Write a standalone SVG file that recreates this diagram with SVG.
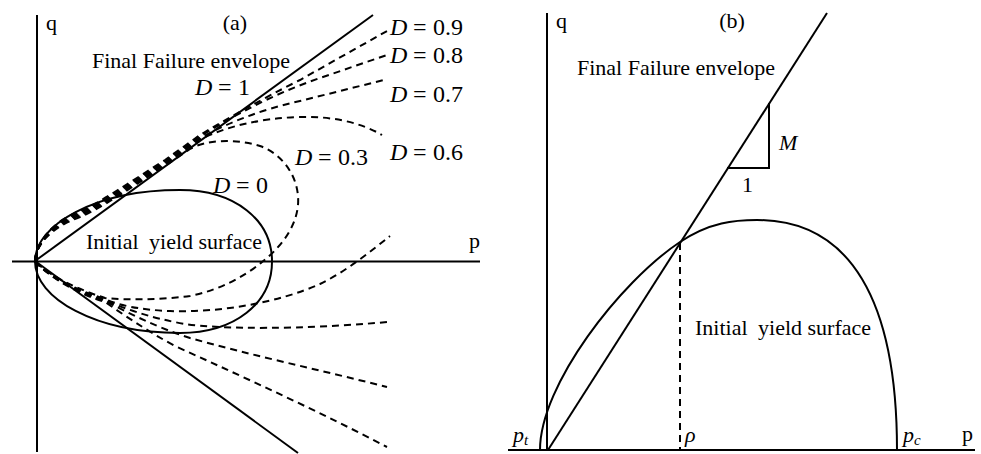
<svg xmlns="http://www.w3.org/2000/svg" width="981" height="454" viewBox="0 0 981 454">
<style>
.s{fill:none;stroke:#000;stroke-width:2}
.d{fill:none;stroke:#000;stroke-width:2;stroke-dasharray:7 5}
text{font-family:"Liberation Serif","Times New Roman",serif;font-size:22px;fill:#000}
.m{font-size:24px}
.i{font-style:italic}
</style>
<rect width="981" height="454" fill="#fff"/>
<g id="panel-a">
  <g id="a-axes">
    <line class="s" x1="37" y1="15" x2="37" y2="452"/>
    <line class="s" x1="12" y1="261.5" x2="480" y2="261.5"/>
    <text x="46" y="30">q</text>
    <text x="469" y="248">p</text>
    <text x="235" y="30" text-anchor="middle">(a)</text>
  </g>
  <g id="a-envelope">
    <line class="s" x1="35" y1="261" x2="373" y2="15"/>
    <line class="s" x1="35" y1="261" x2="298" y2="453"/>
    <text x="92" y="68">Final Failure envelope</text>
  </g>
  <g id="a-yield-D0">
    <path class="s" d="M35,261.5 C35,225 95,190 180,190 C235,190 272,220 272,261.5 C272,303 235,333 180,333 C95,333 35,298 35,261.5 Z"/>
    <text x="86" y="249">Initial<tspan dx="5"> yield surface</tspan></text>
  </g>
  <g id="a-D03">
    <path class="d" d="M35,261 C36,245 50,228 80,217 C100,209 130,188 165,166 L190,149 C205,140 235,138 260,146 C285,155 300,180 298,205 C296,228 280,248 262,262 C245,276 220,290 190,296 C160,300 125,300 105,298 C70,287 45,272 35,261"/>
  </g>
  <g id="a-D06">
    <path class="d" d="M35,261 C36,245 50,226.5 80,215.5 C100,207.5 130,186.5 165,164.5 L200,139.5 C225,127 260,118 300,117 C330,116 360,122 382,135"/>
    <path class="d" d="M35,261 C45,273 70,288 105,299 C118,305 140,310 170,311 C220,313 280,302 320,284 C345,272 370,252 390,236"/>
  </g>
  <g id="a-D07">
    <path class="d" d="M35,261 C36,245 50,225 80,214 C100,206 130,185 165,163 L200,138 C230,122 260,110 300,101 L384,80"/>
    <path class="d" d="M35,261 C45,273 70,289 105,300 C120,307 150,318 185,324 C220,329 300,330 387,322"/>
  </g>
  <g id="a-D08">
    <path class="d" d="M35,261 C36,245 50,223.5 80,212.5 C100,204.5 130,183.5 165,161.5 L200,136.5 C230,118 270,95 320,78 L387,55"/>
    <path class="d" d="M35,261 C45,273 70,290 105,301 C125,311 155,327 190,338 C250,355 320,370 387,387"/>
  </g>
  <g id="a-D09">
    <path class="d" d="M35,261 C36,245 50,222 80,211 C100,203 130,182 165,160 L200,135 C225,120 260,100 300,80 L387,31"/>
    <path class="d" d="M35,261 C45,273 70,291 105,302 C120,312 145,330 175,346 C250,380 320,412 387,447"/>
  </g>
  <g id="a-labels">
    <text class="m" y="35"><tspan class="i" x="390">D</tspan><tspan x="413">=</tspan><tspan x="433">0.9</tspan></text>
    <text class="m" y="63"><tspan class="i" x="390">D</tspan><tspan x="413">=</tspan><tspan x="433">0.8</tspan></text>
    <text class="m" y="102"><tspan class="i" x="390">D</tspan><tspan x="413">=</tspan><tspan x="433">0.7</tspan></text>
    <text class="m" y="160"><tspan class="i" x="390">D</tspan><tspan x="413">=</tspan><tspan x="433">0.6</tspan></text>
    <text class="m" y="165"><tspan class="i" x="295">D</tspan><tspan x="318">=</tspan><tspan x="338">0.3</tspan></text>
    <text class="m" y="95"><tspan class="i" x="195">D</tspan><tspan x="218">=</tspan><tspan x="238">1</tspan></text>
    <text class="m" y="193"><tspan class="i" x="213">D</tspan><tspan x="236">=</tspan><tspan x="256">0</tspan></text>
  </g>
</g>
<g id="panel-b">
  <g id="b-axes">
    <line class="s" x1="547" y1="13" x2="547" y2="451"/>
    <line class="s" x1="508" y1="450" x2="975" y2="450"/>
    <text x="556" y="28">q</text>
    <text x="962" y="441">p</text>
    <text x="732" y="28" text-anchor="middle">(b)</text>
  </g>
  <g id="b-envelope">
    <line class="s" x1="548" y1="450" x2="827" y2="13"/>
    <polyline class="s" points="727,168 769,168 769,103"/>
    <text class="i" x="779" y="150">M</text>
    <text x="742" y="192">1</text>
    <text x="577" y="75">Final Failure envelope</text>
  </g>
  <g id="b-yield">
    <path class="s" d="M540,450 C540,385 620,282 680,242 C710,222 735,220 757,220 C850,220 897,300 897,450"/>
    <line class="d" x1="680" y1="243" x2="680" y2="450"/>
    <text x="695" y="335">Initial<tspan dx="5"> yield surface</tspan></text>
  </g>
  <g id="b-labels">
    <text class="i" x="513" y="442">p<tspan font-size="15" dy="3">t</tspan></text>
    <text class="i" x="685" y="442">ρ</text>
    <text class="i" x="903" y="442">p<tspan font-size="15" dy="3">c</tspan></text>
  </g>
</g>
</svg>
